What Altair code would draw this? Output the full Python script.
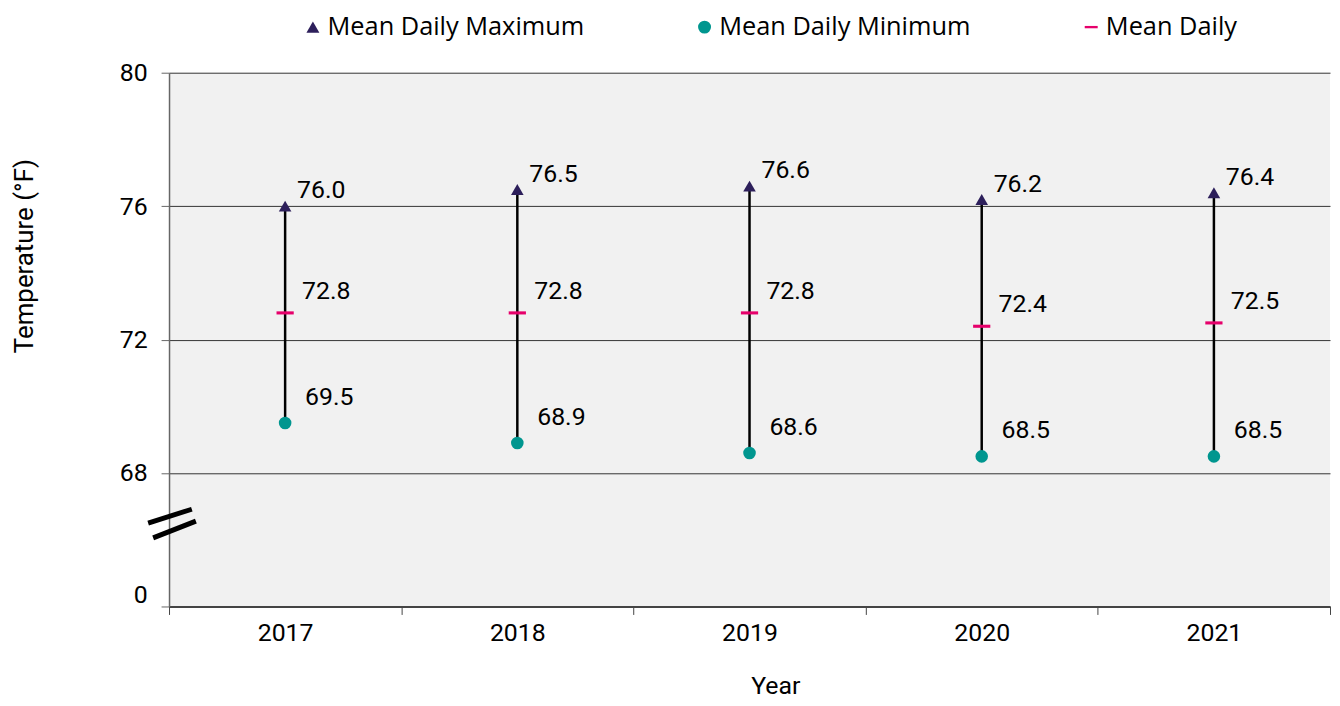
import altair as alt
import pandas as pd

years = ["2017", "2018", "2019", "2020", "2021"]
max_vals = [76.0, 76.5, 76.6, 76.2, 76.4]
min_vals = [69.5, 68.9, 68.6, 68.5, 68.5]
mean_vals = [72.8, 72.8, 72.8, 72.4, 72.5]

series_names = ["Mean Daily Maximum", "Mean Daily Minimum", "Mean Daily"]
series_colors = ["#2D1F5B", "#00968F", "#E6006B"]
series_shapes = ["triangle-up", "circle", "M-1,-0.18H1V0.18H-1Z"]
y_ticks = [64, 68, 72, 76, 80]
break_value = [66.5]

wide = pd.DataFrame({"Year": years, "Max": max_vals, "Min": min_vals, "Mean": mean_vals})
long = pd.DataFrame({
    "Year": years * 3,
    "Series": [series_names[0]] * 5 + [series_names[1]] * 5 + [series_names[2]] * 5,
    "Value": max_vals + min_vals + mean_vals,
})
brk = pd.DataFrame({"v": break_value})

FONT = "Roboto"

x_enc = alt.X(
    "Year:N",
    sort=years,
    scale=alt.Scale(paddingInner=0, paddingOuter=0),
    axis=alt.Axis(
        title="Year", labelAngle=0, tickBand="extent", grid=False,
        domainColor="#444444", domainWidth=2, tickColor="#444444", tickSize=8,
        labelFont=FONT, labelFontSize=25, labelColor="#000000", labelPadding=6,
        titleFont=FONT, titleFontSize=25, titleFontWeight="normal", titleColor="#000000",
        titleX=610, titleY=80, titleBaseline="middle", titleAlign="center",
    ),
)

y_scale = alt.Scale(domain=[64, 80], nice=False, zero=False)
y_axis = alt.Axis(
    title="Temperature (°F)", values=y_ticks,
    labelExpr="datum.value == 64 ? '0' : datum.label",
    labelOffset={"condition": {"test": "datum.value == 64", "value": -12}, "value": 0},
    grid=True, gridColor="#333333", gridWidth=1,
    domainColor="#666666", domainWidth=1.5, tickColor="#666666", tickSize=8,
    labelFont=FONT, labelFontSize=25, labelColor="#000000", labelPadding=14,
    titleFont=FONT, titleFontSize=26, titleFontWeight="normal", titleColor="#000000",
    titleX=-145, titleY=184, titleAngle=-90, titleBaseline="middle", titleAlign="center",
)

rules = alt.Chart(wide).mark_rule(color="#000000", strokeWidth=2.5).encode(
    x=x_enc,
    y=alt.Y("Min:Q", scale=y_scale, axis=y_axis),
    y2="Max:Q",
)

points = alt.Chart(long).mark_point(filled=True, opacity=1, strokeWidth=0).encode(
    x=alt.X("Year:N", sort=years),
    y=alt.Y("Value:Q"),
    color=alt.Color(
        "Series:N",
        scale=alt.Scale(domain=series_names, range=series_colors),
        sort=series_names,
        legend=alt.Legend(
            title=None, orient="none", direction="horizontal", columns=3,
            legendX=132, legendY=-59, padding=0,
            labelFont="Open Sans", labelFontSize=25.5, labelColor="#000000", labelLimit=0,
            symbolSize=170, symbolStrokeWidth=0, labelOffset=2, columnPadding=108,
        ),
    ),
    shape=alt.Shape(
        "Series:N",
        scale=alt.Scale(domain=series_names, range=series_shapes),
        sort=series_names,
    ),
    size=alt.condition(
        alt.datum.Series == "Mean Daily", alt.value(300), alt.value(160)
    ),
)

text_style = dict(align="left", baseline="middle", font=FONT, fontSize=25, color="#000000")
max_text = alt.Chart(wide).mark_text(dx=12, dy=-16, **text_style).encode(
    x=alt.X("Year:N", sort=years), y="Max:Q", text=alt.Text("Max:Q", format=".1f"))
mean_text = alt.Chart(wide).mark_text(dx=17, dy=-22, **text_style).encode(
    x=alt.X("Year:N", sort=years), y="Mean:Q", text=alt.Text("Mean:Q", format=".1f"))
min_text = alt.Chart(wide).mark_text(dx=20, dy=-26, **text_style).encode(
    x=alt.X("Year:N", sort=years), y="Min:Q", text=alt.Text("Min:Q", format=".1f"))

break_mark = alt.Chart(brk).mark_point(
    shape="M-1,0L0.83,-0.58M-0.79,0.62L1,-0.08",
    filled=False, color="#000000", strokeWidth=5, size=2304, opacity=1,
).encode(x=alt.value(3), y=alt.Y("v:Q"))

chart = alt.layer(rules, points, max_text, mean_text, min_text, break_mark).properties(
    width=1168, height=537,
    autosize=alt.AutoSizeParams(type="none"),
    padding={"left": 162, "top": 63, "right": 2, "bottom": 96},
).configure_view(fill="#F1F1F1", stroke=None)

chart.save("out.html", embed_options={"renderer": "svg", "actions": False})
